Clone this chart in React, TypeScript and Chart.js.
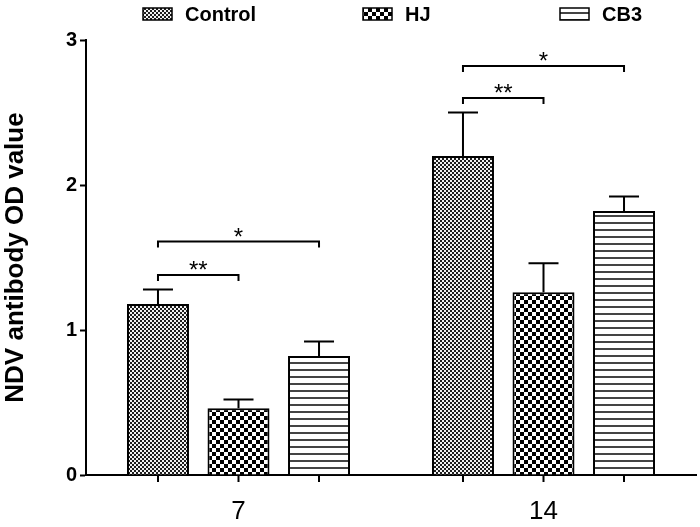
import React, { useEffect, useRef } from 'react';
import { Chart, registerables } from 'chart.js';

Chart.register(...registerables);

const categories = ['7', '14'];
const seriesNames = ['Control', 'HJ', 'CB3'];
const controlValues = [1.18, 2.2];
const controlErrors = [0.1, 0.3];
const hjValues = [0.46, 1.26];
const hjErrors = [0.06, 0.2];
const cb3Values = [0.82, 1.82];
const cb3Errors = [0.1, 0.1];
const yTickValues = [0, 1, 2, 3];
const yTitle = 'NDV antibody OD value';

const bracketCategory = [0, 0, 1, 1];
const bracketFromSeries = [0, 0, 0, 0];
const bracketToSeries = [1, 2, 1, 2];
const bracketLevel = [1.38, 1.61, 2.6, 2.82];
const bracketLabels = ['**', '*', '**', '*'];

const FONT = '"Liberation Sans", Arial, Helvetica, sans-serif';

function makePattern(kind: string): CanvasPattern | string {
  const c = document.createElement('canvas');
  const ctx = c.getContext('2d');
  if (!ctx) return '#888';
  if (kind === 'fine') {
    c.width = 4; c.height = 4;
    ctx.fillStyle = '#f2f2f2';
    ctx.fillRect(0, 0, 4, 4);
    ctx.fillStyle = '#1e1e1e';
    ctx.fillRect(0, 0, 2, 2);
    ctx.fillRect(2, 2, 2, 2);
  } else if (kind === 'coarse') {
    c.width = 8; c.height = 8;
    ctx.fillStyle = '#ffffff';
    ctx.fillRect(0, 0, 8, 8);
    ctx.fillStyle = '#000000';
    ctx.fillRect(0, 0, 4, 4);
    ctx.fillRect(4, 4, 4, 4);
  } else {
    c.width = 8; c.height = 7;
    ctx.fillStyle = '#ffffff';
    ctx.fillRect(0, 0, 8, 7);
    ctx.fillStyle = '#444444';
    ctx.fillRect(0, 5, 8, 2);
  }
  const p = ctx.createPattern(c, 'repeat');
  return p || '#888';
}

export default function App() {
  const ref = useRef<HTMLCanvasElement | null>(null);

  useEffect(() => {
    document.body.style.margin = '0';
    const canvas = ref.current;
    if (!canvas) return;

    const patterns = [makePattern('fine'), makePattern('coarse'), makePattern('lines')];
    const values = [controlValues, hjValues, cb3Values];
    const errors = [controlErrors, hjErrors, cb3Errors];

    const extrasPlugin = {
      id: 'extras',
      afterDatasetsDraw(chart: any) {
        const { ctx, chartArea } = chart;
        const yScale = chart.scales.y;
        ctx.save();
        ctx.strokeStyle = '#000';
        ctx.lineWidth = 2;
        ctx.lineCap = 'butt';
        for (let d = 0; d < values.length; d++) {
          const meta = chart.getDatasetMeta(d);
          meta.data.forEach((bar: any, j: number) => {
            const top = yScale.getPixelForValue(values[d][j] + errors[d][j]);
            ctx.beginPath();
            ctx.moveTo(bar.x, bar.y);
            ctx.lineTo(bar.x, top);
            ctx.moveTo(bar.x - 15, top);
            ctx.lineTo(bar.x + 15, top);
            ctx.stroke();
            ctx.beginPath();
            ctx.moveTo(bar.x, chartArea.bottom);
            ctx.lineTo(bar.x, chartArea.bottom + 7);
            ctx.stroke();
          });
        }
        ctx.fillStyle = '#000';
        ctx.font = `24px ${FONT}`;
        ctx.textAlign = 'center';
        ctx.textBaseline = 'alphabetic';
        for (let b = 0; b < bracketLabels.length; b++) {
          const c = bracketCategory[b];
          const x1 = chart.getDatasetMeta(bracketFromSeries[b]).data[c].x;
          const x2 = chart.getDatasetMeta(bracketToSeries[b]).data[c].x;
          const y = yScale.getPixelForValue(bracketLevel[b]);
          ctx.beginPath();
          ctx.moveTo(x1, y + 6);
          ctx.lineTo(x1, y);
          ctx.lineTo(x2, y);
          ctx.lineTo(x2, y + 6);
          ctx.stroke();
          ctx.fillText(bracketLabels[b], (x1 + x2) / 2, y + 3);
        }
        ctx.restore();
      },
      afterDraw(chart: any) {
        const { ctx } = chart;
        const w = chart.width;
        const itemX = [0.204, 0.519, 0.8];
        ctx.save();
        ctx.font = `bold 20px ${FONT}`;
        ctx.textBaseline = 'middle';
        ctx.textAlign = 'left';
        for (let i = 0; i < seriesNames.length; i++) {
          const x = Math.round(w * itemX[i]);
          ctx.fillStyle = patterns[i] as any;
          ctx.fillRect(x, 8, 29, 12);
          ctx.strokeStyle = '#000';
          ctx.lineWidth = 1.5;
          ctx.strokeRect(x, 8, 29, 12);
          ctx.fillStyle = '#000';
          ctx.fillText(seriesNames[i], x + 42, 15);
        }
        ctx.restore();
      },
    };

    const chart = new Chart(canvas, {
      type: 'bar',
      data: {
        labels: categories,
        datasets: seriesNames.map((name, i) => ({
          label: name,
          data: values[i],
          backgroundColor: patterns[i] as any,
          borderColor: '#000',
          borderWidth: 2,
          categoryPercentage: 0.792,
          barPercentage: 0.77,
        })),
      },
      options: {
        responsive: false,
        animation: false,
        layout: { padding: { top: 40, right: 4, bottom: 0, left: 0 } },
        plugins: {
          legend: { display: false },
          tooltip: { enabled: false },
        },
        scales: {
          x: {
            grid: { display: false, drawTicks: false },
            border: { display: true, color: '#000', width: 2 },
            ticks: {
              color: '#000',
              font: { family: FONT, size: 26 },
              padding: 21,
            },
            afterFit: (scale: any) => { scale.height = 52; },
          },
          y: {
            min: 0,
            max: 3,
            afterBuildTicks: (scale: any) => {
              scale.ticks = yTickValues.map((v) => ({ value: v }));
            },
            grid: {
              drawOnChartArea: false,
              drawTicks: true,
              tickLength: 6,
              tickWidth: 2,
              tickColor: '#000',
            },
            border: { display: true, color: '#000', width: 2 },
            ticks: {
              color: '#000',
              font: { family: FONT, size: 20, weight: 'bold' },
              padding: 3,
              callback: (v: any) => String(v),
            },
            title: {
              display: true,
              text: yTitle,
              color: '#000',
              font: { family: FONT, size: 26, weight: 'bold' },
              padding: { top: 0, bottom: 0 },
            },
            afterFit: (scale: any) => { scale.width = 86; },
          },
        },
      },
      plugins: [extrasPlugin],
    });

    return () => chart.destroy();
  }, []);

  return (
    <div style={{ width: 700, height: 527 }}>
      <canvas ref={ref} width={700} height={527} style={{ display: 'block' }} />
    </div>
  );
}
